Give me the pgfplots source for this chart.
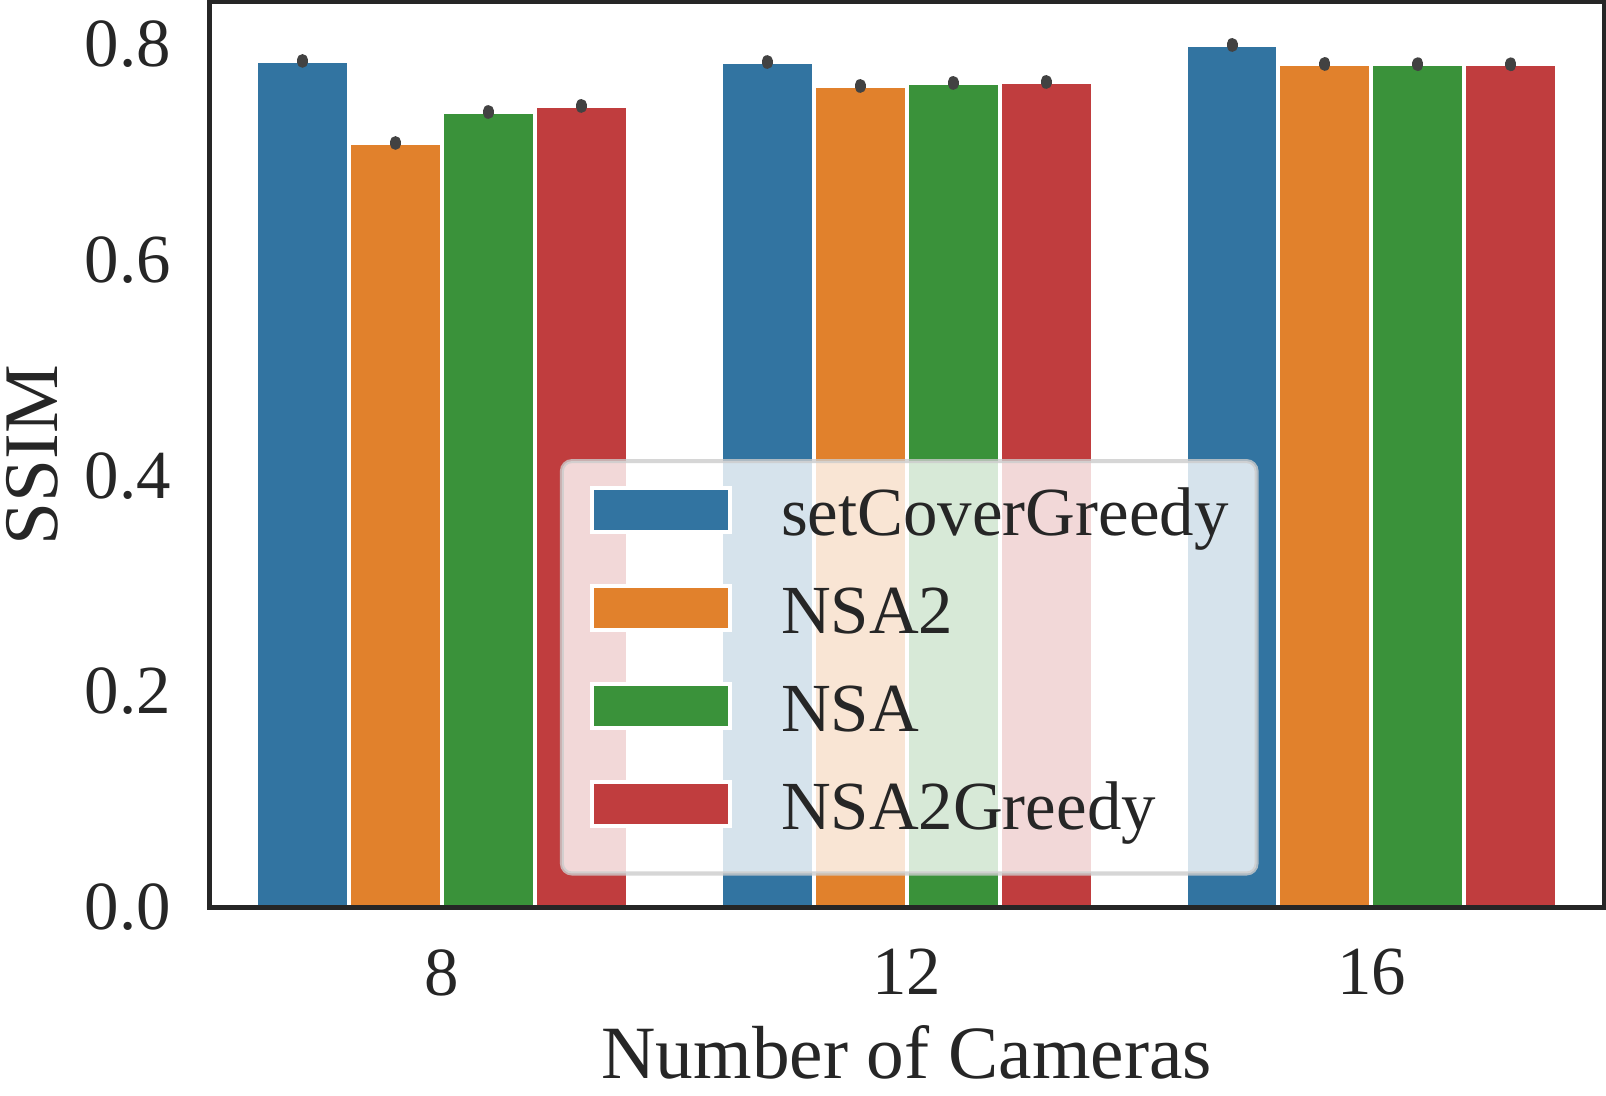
\documentclass[border=0pt]{standalone}
\usepackage{fontspec}
\setmainfont{Liberation Serif}
\usepackage{pgfplots}
\pgfplotsset{compat=1.18}
\definecolor{c1}{HTML}{3274A1}
\definecolor{c2}{HTML}{E1812C}
\definecolor{c3}{HTML}{3A923A}
\definecolor{c4}{HTML}{C03D3E}
\definecolor{ax}{HTML}{262626}
\definecolor{eb}{HTML}{424242}
\definecolor{lg}{HTML}{CCCCCC}
\pgfplotsset{
  mybar/.style={ybar, bar width=0.2, bar shift=0pt, draw=white, line width=1pt,
    legend image code/.code={\draw[##1, sharp corners, fill opacity=1, draw opacity=1, line width=1pt] (0pt,0.8pt) rectangle (34.5pt,11.9pt);},
    error bars/y dir=both, error bars/y explicit, error bars/error mark=none,
    error bars/error bar style={line width=2.75pt, line cap=round, draw=eb}},
}
\begin{document}
\begin{tikzpicture}
\begin{axis}[
  scale only axis, width=348.25pt, height=226.1pt,
  xmin=-0.5, xmax=2.5, ymin=0, ymax=0.8385,
  axis on top,
  axis line style={ax, line width=1.1pt},
  xtick={0,1,2}, xticklabels={8,12,16},
  ytick={0,0.2,0.4,0.6,0.8},
  major tick length=0pt,
  /pgf/number format/assume math mode=true,
  tick label style={font=\fontsize{17.2}{21}\selectfont, text=ax, inner sep=0pt},
  yticklabel style={anchor=east, xshift=-9.5pt, /pgf/number format/fixed, /pgf/number format/fixed zerofill, /pgf/number format/precision=1},
  xticklabel style={anchor=north, yshift=-10.25pt},
  xlabel={Number of Cameras},
  xlabel style={at={(axis description cs:0.5,-0.18905)}, anchor=base, inner sep=0pt, text depth=4.25pt, font=\fontsize{18.8}{23}\selectfont, text=ax},
  ylabel={SSIM},
  ylabel style={at={(axis description cs:-0.1089,0.5)}, anchor=base, inner sep=0pt, text height=14.4pt, font=\fontsize{19.3}{23}\selectfont, text=ax},
  legend style={at={(axis description cs:0.2513,0.4953)}, anchor=north west,
    fill=white, fill opacity=0.8, draw=lg, draw opacity=0.8, text opacity=1,
    line width=1pt, rounded corners=2.5pt, inner xsep=7pt, inner ysep=4pt,
    font=\fontsize{17.2}{21}\selectfont, row sep=3.0pt,
    cells={anchor=base west},
    nodes={inner sep=0pt, text height=14.5pt, text depth=7pt, text=ax},
    /tikz/every odd column/.append style={column sep=12.25pt}},
]
\addplot[mybar, fill=c1] coordinates {(-0.3,0.7841) +- (0,0.00125) (0.7,0.7831) +- (0,0.00125) (1.7,0.7989) +- (0,0.00125)};
\addlegendentry{setCoverGreedy}
\addplot[mybar, fill=c2] coordinates {(-0.1,0.7081) +- (0,0.00125) (0.9,0.7609) +- (0,0.00125) (1.9,0.7813) +- (0,0.00125)};
\addlegendentry{NSA2}
\addplot[mybar, fill=c3] coordinates {(0.1,0.7368) +- (0,0.00125) (1.1,0.7637) +- (0,0.00125) (2.1,0.7811) +- (0,0.00125)};
\addlegendentry{NSA}
\addplot[mybar, fill=c4] coordinates {(0.3,0.7424) +- (0,0.00125) (1.3,0.7646) +- (0,0.00125) (2.3,0.7810) +- (0,0.00125)};
\addlegendentry{NSA2Greedy}
\end{axis}
\end{tikzpicture}
\end{document}
